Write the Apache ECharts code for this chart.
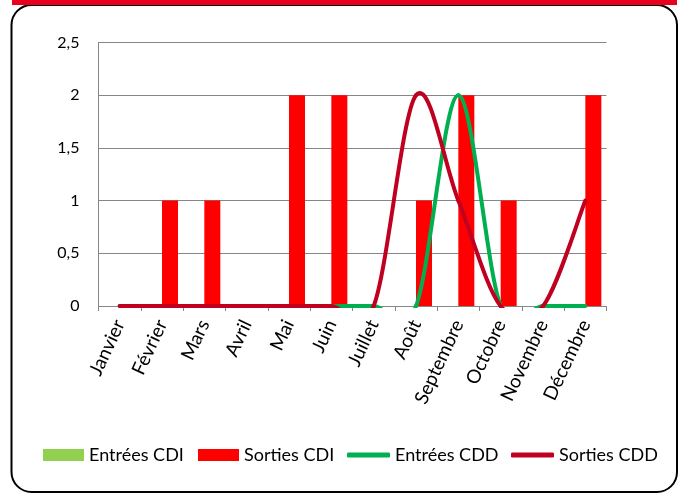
<!DOCTYPE html>
<html>
<head>
<meta charset="utf-8">
<script src="https://cdn.jsdelivr.net/npm/echarts@6/dist/echarts.min.js"></script>
<style>
  html, body { margin: 0; padding: 0; background: #fff; }
  #chart { width: 683px; height: 495px; }
</style>
</head>
<body>
<div id="chart"></div>
<script>
const months = ['Janvier', 'Février', 'Mars', 'Avril', 'Mai', 'Juin', 'Juillet', 'Août', 'Septembre', 'Octobre', 'Novembre', 'Décembre']
const entreesCDI = [0, 0, 0, 0, 0, 0, 0, 0, 0, 0, 0, 0]
const sortiesCDI = [0, 1, 1, 0, 2, 2, 0, 1, 2, 1, 0, 2]
const entreesCDD = [0, 0, 0, 0, 0, 0, 0, 0, 2, 0, 0, 0]
const sortiesCDD = [0, 0, 0, 0, 0, 0, 0, 2, 1, 0, 0, 1]
const yTicks = [0, 0.5, 1, 1.5, 2, 2.5]

const FONT = 'Lato'

// Excel-like smoothed line: one bezier segment per point, control points from neighbours
const smoothLine = (values, color) => (params, api) => {
  const i = params.dataIndex
  if (i >= values.length - 1) return null
  const last = values.length - 1
  const pt = (k) => {
    const j = Math.max(0, Math.min(last, k))
    return api.coord([j, values[j]])
  }
  const p0 = pt(i - 1)
  const p1 = pt(i)
  const p2 = pt(i + 1)
  const p3 = pt(i + 2)
  return {
    type: 'bezierCurve',
    shape: {
      x1: p1[0], y1: p1[1],
      x2: p2[0], y2: p2[1],
      cpx1: p1[0] + (p2[0] - p0[0]) / 6,
      cpy1: p1[1] + (p2[1] - p0[1]) / 6,
      cpx2: p2[0] - (p3[0] - p1[0]) / 6,
      cpy2: p2[1] - (p3[1] - p1[1]) / 6,
    },
    style: { stroke: color, fill: 'none', lineWidth: 4, lineCap: 'round' },
  }
}

const legendText = { fontFamily: FONT, fontSize: 18, color: '#000' }

const chart = echarts.init(document.getElementById('chart'))

chart.setOption({
  animation: false,
  textStyle: { fontFamily: FONT },
  graphic: [
    {
      type: 'rect',
      shape: { x: 11.5, y: 5, width: 665.5, height: 487, r: 20 },
      style: { fill: 'none', stroke: '#000', lineWidth: 2 },
      z: 10,
    },
    {
      type: 'rect',
      shape: { x: 12, y: 0, width: 665, height: 5 },
      style: { fill: '#E8001E' },
      z: 11,
    },
  ],
  legend: [
    {
      left: 43, top: 446, padding: 0, itemWidth: 41, itemHeight: 12, icon: 'rect',
      data: [{ name: 'Entrées CDI', itemStyle: { color: '#92D050' } }],
      textStyle: legendText,
    },
    {
      left: 198, top: 446, padding: 0, itemWidth: 41, itemHeight: 12, icon: 'rect',
      data: [{ name: 'Sorties CDI', itemStyle: { color: '#FF0000' } }],
      textStyle: legendText,
    },
    {
      left: 347, top: 446, padding: 0, itemWidth: 43, itemHeight: 5, icon: 'roundRect',
      data: [{ name: 'Entrées CDD', itemStyle: { color: '#00B050' } }],
      textStyle: legendText,
    },
    {
      left: 511, top: 446, padding: 0, itemWidth: 43, itemHeight: 5, icon: 'roundRect',
      data: [{ name: 'Sorties CDD', itemStyle: { color: '#C00020' } }],
      textStyle: legendText,
    },
  ],
  grid: {
    left: 98.5,
    right: 76.5,
    top: 42.5,
    bottom: 189,
  },
  xAxis: {
    type: 'category',
    data: months,
    axisLine: { lineStyle: { color: '#868686' } },
    axisTick: { show: true, length: 5, lineStyle: { color: '#868686' } },
    axisLabel: {
      interval: 0,
      rotate: 65,
      margin: 15,
      fontFamily: FONT,
      fontSize: 19,
      color: '#000',
    },
  },
  yAxis: {
    type: 'value',
    min: yTicks[0],
    max: yTicks[yTicks.length - 1],
    interval: 0.5,
    axisLine: { show: true, lineStyle: { color: '#868686' } },
    axisTick: { show: false },
    splitLine: { lineStyle: { color: '#868686' } },
    axisLabel: {
      margin: 19,
      fontFamily: FONT,
      fontSize: 16,
      color: '#000',
      formatter: (v) => String(v).replace('.', ','),
    },
  },
  series: [
    {
      name: 'Entrées CDI',
      type: 'bar',
      data: entreesCDI,
      barWidth: 16,
      barGap: '0%',
      itemStyle: { color: '#92D050' },
    },
    {
      name: 'Sorties CDI',
      type: 'bar',
      data: sortiesCDI,
      barWidth: 16,
      barGap: '0%',
      itemStyle: { color: '#FF0000' },
    },
    {
      name: 'Entrées CDD',
      type: 'custom',
      z: 3,
      clip: true,
      lineStyle: { width: 4 },
      itemStyle: { color: '#00B050' },
      encode: { x: 0, y: 1 },
      data: entreesCDD.map((v, i) => [i, v]),
      renderItem: smoothLine(entreesCDD, '#00B050'),
    },
    {
      name: 'Sorties CDD',
      type: 'custom',
      z: 4,
      clip: true,
      lineStyle: { width: 4 },
      itemStyle: { color: '#C00020' },
      encode: { x: 0, y: 1 },
      data: sortiesCDD.map((v, i) => [i, v]),
      renderItem: smoothLine(sortiesCDD, '#C00020'),
    },
  ],
})
</script>
</body>
</html>
